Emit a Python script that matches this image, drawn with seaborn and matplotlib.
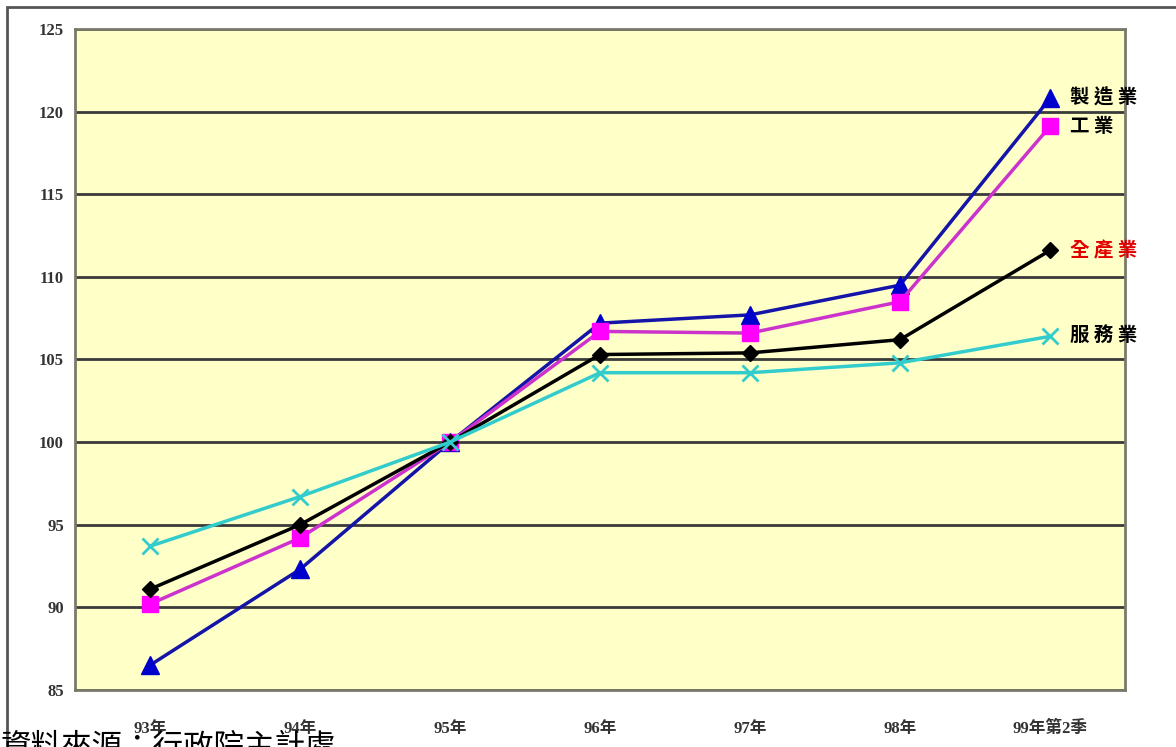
import matplotlib
matplotlib.use("Agg")
import matplotlib.pyplot as plt
import seaborn as sns
import pandas as pd
from matplotlib.patches import Rectangle

# data (index, 95年 = 100)
periods = ["93年", "94年", "95年", "96年", "97年", "98年", "99年第2季"]
manufacturing = [86.5, 92.3, 100, 107.2, 107.7, 109.5, 120.8]
industry = [90.2, 94.2, 100, 106.7, 106.6, 108.5, 119.1]
all_industries = [91.1, 95.0, 100, 105.3, 105.4, 106.2, 111.6]
services = [93.7, 96.7, 100, 104.2, 104.2, 104.8, 106.4]
series_names = ["製 造 業", "工 業", "全 產 業", "服 務 業"]
source_note = "資料來源：行政院主計處"

sns.set_style("white")
plt.rcParams['font.family'] = ['Noto Sans CJK TC', 'DejaVu Sans']

fig = plt.figure(figsize=(11.76, 7.47), dpi=100)
ax = fig.add_axes([75/1176, 1-690/747, 1050/1176, 661/747])
ax.set_facecolor("#FFFFC8")

styles = [
    (manufacturing, "#1414A8", "#0000CC", "^", 13, "black"),
    (industry, "#CC33CC", "#FF00FF", "s", 12, "black"),
    (all_industries, "black", "black", "D", 8, "#E00000"),
    (services, "#33CCCC", "#33CCCC", "x", 11, "black"),
]

x = list(range(len(periods)))
for (vals, lc, mc, mk, ms, tc), name in zip(styles, series_names):
    sns.lineplot(x=x, y=vals, ax=ax, color=lc, lw=2.5, marker=mk,
                 markersize=ms, markerfacecolor=mc, markeredgecolor=mc,
                 markeredgewidth=2 if mk == "x" else 1)
    ax.text(6.13, vals[-1], name, ha="left", va="center", fontsize=14,
            fontweight="bold", color=tc, clip_on=False)

ax.set_xlim(-0.5, 6.5)
ax.set_ylim(85, 125)
ax.set_yticks(range(85, 126, 5))
ax.set_xticks(x)
ax.set_xticklabels(periods)
ax.set_xticks([i + 0.5 for i in range(-1, 7)], minor=True)
ax.yaxis.grid(True, color="#3a3a3a", lw=2)
ax.set_axisbelow(True)
for s in ax.spines.values():
    s.set_color("#7a7a6a")
    s.set_linewidth(2)
ax.tick_params(axis="x", which="major", length=0, pad=22, labelsize=12,
               labelcolor="#333333")
ax.tick_params(axis="x", which="minor", length=5, color="#555555", direction="in")
ax.tick_params(axis="y", length=0, pad=8, labelsize=12, labelcolor="#333333")
for lab in ax.get_xticklabels() + ax.get_yticklabels():
    lab.set_fontweight("bold")
    lab.set_family(["Liberation Serif", "Noto Sans CJK TC"])

# outer frame
fig.patches.append(Rectangle((7/1176, -0.05), 1.2, 1 - 7/747 + 0.05,
                             transform=fig.transFigure, fill=False,
                             edgecolor="#555555", lw=2))

fig.text(0.0, 15/747, source_note, ha="left", va="top", fontsize=22,
         color="black")

fig.savefig("out.png", dpi=100)
